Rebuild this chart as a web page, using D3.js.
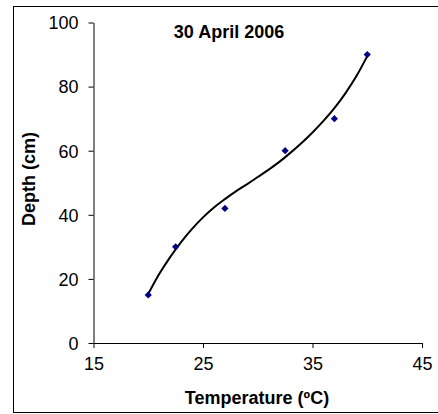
<!DOCTYPE html>
<html>
<head>
<meta charset="utf-8">
<script src="https://cdn.jsdelivr.net/npm/d3@7"></script>
<style>
  html, body { margin: 0; padding: 0; background: #fff; }
  svg { display: block; }
  text { font-family: Arial, "Liberation Sans", sans-serif; fill: #000; }
</style>
</head>
<body>
<svg id="chart" width="438" height="414"></svg>
<script>
// Measured soil temperature at each depth
const temperature = [20, 22.5, 27, 32.5, 37, 40];
const depth = [15, 30, 42, 60, 70, 90];

// Fitted trend curve through the measurements
const trendTemperature = [20, 21, 22, 23, 24, 25, 26, 27, 28, 29, 30, 31, 32, 33, 34, 35, 36, 37, 38, 39, 40];
const trendDepth = [15.3, 21.5, 26.8, 31.5, 35.6, 39.2, 42.3, 44.9, 47.3, 49.5, 51.8, 54.1, 56.6, 59.4, 62.4, 65.7, 69.3, 73.3, 77.9, 83.2, 89.5];

const xTicks = [15, 25, 35, 45];
const yTicks = [0, 20, 40, 60, 80, 100];

const titleText = "30 April 2006";
const xTitle = "Temperature (ºC)";
const yTitle = "Depth (cm)";

const svg = d3.select("#chart");

// Chart frame
svg.append("rect")
  .attr("x", 13.5).attr("y", 6.5)
  .attr("width", 440).attr("height", 406)
  .attr("fill", "#fff").attr("stroke", "#000").attr("stroke-width", 1);

const x = d3.scaleLinear().domain([15, 45]).range([93.5, 422]);
const y = d3.scaleLinear().domain([0, 100]).range([343, 22.5]);

// Axes
const xAxis = svg.append("g")
  .attr("transform", `translate(0,${y(0)})`)
  .call(d3.axisBottom(x).tickValues(xTicks).tickSize(5).tickPadding(9).tickSizeOuter(0));
const yAxis = svg.append("g")
  .attr("transform", `translate(${x(15)},0)`)
  .call(d3.axisLeft(y).tickValues(yTicks).tickSize(5).tickPadding(10).tickSizeOuter(0));

[xAxis, yAxis].forEach(g => {
  g.select(".domain").attr("stroke", "#000").attr("stroke-width", 1);
  g.selectAll(".tick line").attr("stroke", "#000").attr("stroke-width", 1);
  g.selectAll(".tick text")
    .style("font-family", "Arial, 'Liberation Sans', sans-serif")
    .style("font-size", "18px")
    .attr("fill", "#000");
});
xAxis.selectAll(".tick text").attr("dy", "0.71em");
yAxis.selectAll(".tick text").attr("dy", "0.35em");

// Trend curve
const line = d3.line()
  .x((d, i) => x(trendTemperature[i]))
  .y(d => y(d))
  .curve(d3.curveMonotoneX);
svg.append("path")
  .datum(trendDepth)
  .attr("d", line)
  .attr("fill", "none")
  .attr("stroke", "#000")
  .attr("stroke-width", 2);

// Measurement markers (diamonds)
const diamond = d3.symbol().type(d3.symbolSquare).size(26);
svg.append("g").selectAll("path")
  .data(depth)
  .join("path")
  .attr("d", diamond)
  .attr("transform", (d, i) => `translate(${x(temperature[i])},${y(d)}) rotate(45)`)
  .attr("fill", "#000080");

// Titles
svg.append("text")
  .attr("x", 229).attr("y", 37.5)
  .attr("text-anchor", "middle")
  .style("font-size", "18px").style("font-weight", "bold")
  .text(titleText);

svg.append("text")
  .attr("x", 257).attr("y", 404)
  .attr("text-anchor", "middle")
  .style("font-size", "18px").style("font-weight", "bold")
  .text(xTitle);

svg.append("text")
  .attr("transform", "translate(35,179) rotate(-90)")
  .attr("text-anchor", "middle")
  .style("font-size", "18px").style("font-weight", "bold")
  .text(yTitle);
</script>
</body>
</html>
